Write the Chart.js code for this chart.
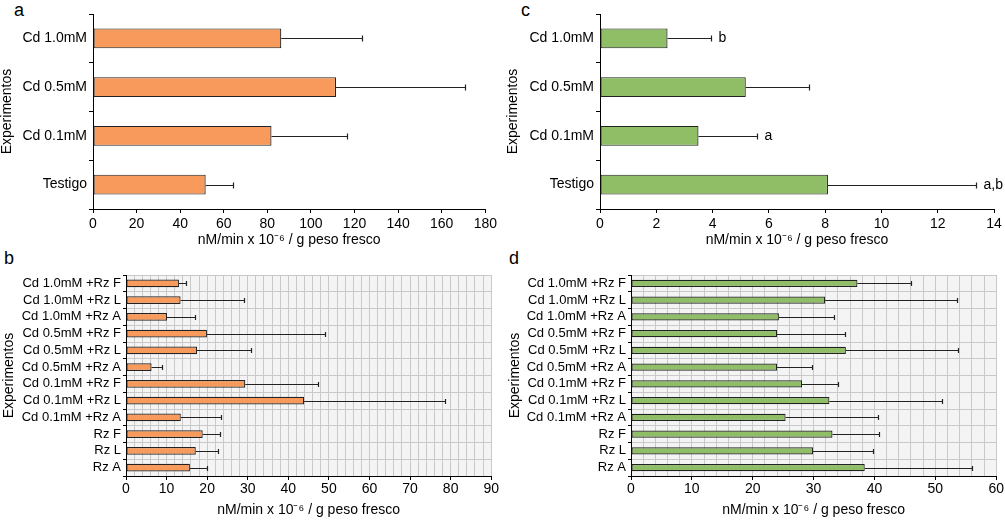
<!DOCTYPE html>
<html>
<head>
<meta charset="utf-8">
<script src="https://cdn.jsdelivr.net/npm/chart.js@4.4.0/dist/chart.umd.min.js"></script>
<style>
body { margin:0; background:#fff; width:1005px; height:524px; position:relative; overflow:hidden; font-family:"Liberation Sans", Arial, sans-serif; }
canvas { position:absolute; }
.letter { position:absolute; font-size:18px; line-height:18px; font-weight:normal; color:#000; }
</style>
</head>
<body>
<div class="letter" style="left:14px;top:1px">a</div>
<div class="letter" style="left:521px;top:1px">c</div>
<div class="letter" style="left:4px;top:249px">b</div>
<div class="letter" style="left:509px;top:249px">d</div>
<canvas id="chartA" width="500" height="255" style="left:0;top:0"></canvas>
<canvas id="chartC" width="505" height="255" style="left:500px;top:0"></canvas>
<canvas id="chartB" width="500" height="269" style="left:0;top:255px"></canvas>
<canvas id="chartD" width="505" height="269" style="left:500px;top:255px"></canvas>
<script>
// top panels: Cd only
const catsTop = ['Cd 1.0mM', 'Cd 0.5mM', 'Cd 0.1mM', 'Testigo'];
const valsA = [86.4, 111.5, 81.9, 51.7];
const errA = [37.1, 59.4, 34.8, 12.7];
const valsC = [2.40, 5.18, 3.50, 8.10];
const errC = [1.54, 2.25, 2.08, 5.25];
const sigC = ['b', '', 'a', 'a,b'];

// bottom panels: Cd + Rz
const catsBottom = [
    'Cd 1.0mM +Rz F', 'Cd 1.0mM +Rz L', 'Cd 1.0mM +Rz A',
    'Cd 0.5mM +Rz F', 'Cd 0.5mM +Rz L', 'Cd 0.5mM +Rz A',
    'Cd 0.1mM +Rz F', 'Cd 0.1mM +Rz L', 'Cd 0.1mM +Rz A',
    'Rz F', 'Rz L', 'Rz A'
];
const valsB = [13.05, 13.45, 10.1, 19.95, 17.5, 6.3, 29.4, 43.9, 13.5, 18.9, 17.2, 15.75];
const errB = [1.8, 15.65, 6.8, 29.1, 13.3, 2.5, 17.8, 34.6, 9.8, 4.15, 5.5, 4.1];
const valsD = [37.2, 31.9, 24.3, 24.0, 35.3, 24.0, 28.1, 32.6, 25.4, 33.1, 29.9, 38.4];
const errD = [8.8, 21.7, 9.0, 11.1, 18.5, 5.7, 5.9, 18.5, 15.2, 7.6, 9.9, 17.7];

const xTitle = 'nM/min x 10\u207B\u2076 / g peso fresco';
const FONT = '"Liberation Sans", Arial, sans-serif';
const ORANGE = '#f79a5b';
const GREEN = '#8fbe66';

// error bars (and optional letters) drawn after the bars
const errorBars = {
    id: 'errorBars',
    afterDatasetsDraw(chart, args, opts) {
        const ctx = chart.ctx;
        const xs = chart.scales.x;
        const meta = chart.getDatasetMeta(0);
        const ds = chart.data.datasets[0];
        ctx.save();
        ctx.strokeStyle = '#222';
        ctx.lineWidth = 1.2;
        meta.data.forEach((bar, i) => {
            const x0 = bar.x;
            const x1 = Math.round(xs.getPixelForValue(ds.data[i] + ds.errors[i])) + 0.5;
            const y = Math.round(bar.y) + 0.5;
            ctx.beginPath();
            ctx.moveTo(x0, y);
            ctx.lineTo(x1, y);
            ctx.moveTo(x1, y - opts.cap);
            ctx.lineTo(x1, y + opts.cap);
            ctx.stroke();
            if (ds.sig && ds.sig[i]) {
                ctx.fillStyle = '#000';
                ctx.font = '14px ' + FONT;
                ctx.textBaseline = 'middle';
                ctx.textAlign = 'left';
                ctx.fillText(ds.sig[i], x1 + 7, y);
            }
        });
        ctx.restore();
    }
};

const plotBg = {
    id: 'plotBg',
    beforeDraw(chart, args, opts) {
        if (!opts.color) return;
        const a = chart.chartArea;
        chart.ctx.save();
        chart.ctx.fillStyle = opts.color;
        chart.ctx.fillRect(a.left, a.top, a.right - a.left, a.bottom - a.top);
        chart.ctx.restore();
    }
};

function makePanel(id, cats, vals, errs, p) {
    const grid = p.grid;
    return new Chart(document.getElementById(id), {
        type: 'bar',
        data: {
            labels: cats,
            datasets: [{
                data: vals,
                errors: errs,
                sig: p.sig,
                backgroundColor: p.color,
                borderColor: '#222',
                borderWidth: 1.2,
                borderSkipped: false,
                barPercentage: p.barPct,
                categoryPercentage: 1
            }]
        },
        options: {
            indexAxis: 'y',
            responsive: false,
            animation: false,
            events: [],
            layout: { padding: p.padding },
            plugins: {
                legend: { display: false },
                tooltip: { enabled: false },
                errorBars: { cap: p.cap },
                plotBg: { color: grid ? '#f4f4f4' : null }
            },
            scales: {
                x: {
                    min: 0,
                    max: p.max,
                    afterFit: s => { s.height = p.xHeight; },
                    border: { color: '#000' },
                    grid: {
                        drawOnChartArea: grid,
                        color: '#c9c9c9',
                        tickLength: 4,
                        tickColor: c => (Math.round(c.tick.value) % p.labelStep === 0 ? '#000' : 'rgba(0,0,0,0)')
                    },
                    ticks: {
                        stepSize: p.step,
                        autoSkip: false,
                        maxRotation: 0,
                        padding: p.xTickPad,
                        color: '#000',
                        font: { family: FONT, size: 14 },
                        callback: v => (Math.round(v) % p.labelStep === 0 ? v : '')
                    },
                    title: {
                        display: true,
                        text: xTitle,
                        color: '#000',
                        font: { family: FONT, size: 14, lineHeight: 1 },
                        padding: { top: 0, bottom: p.titlePad }
                    }
                },
                y: {
                    afterFit: s => { s.width = p.yWidth; },
                    border: { color: '#000' },
                    grid: {
                        offset: true,
                        drawOnChartArea: grid,
                        color: '#c9c9c9',
                        tickColor: '#000',
                        tickLength: p.yTick
                    },
                    ticks: {
                        autoSkip: false,
                        padding: 2,
                        color: '#000',
                        font: { family: FONT, size: p.labelSize }
                    },
                    title: {
                        display: true,
                        text: 'Experimentos',
                        color: '#000',
                        font: { family: FONT, size: 14, lineHeight: 1 },
                        padding: 0
                    }
                }
            }
        },
        plugins: [plotBg, errorBars]
    });
}

makePanel('chartA', catsTop, valsA, errA, {
    color: ORANGE, max: 180, step: 20, labelStep: 20, grid: false,
    padding: { left: 0, right: 12, top: 14, bottom: 0 },
    yWidth: 93, xHeight: 46, xTickPad: 3, titlePad: 8,
    yTick: 4, labelSize: 14, barPct: 0.41, cap: 3
});

makePanel('chartC', catsTop, valsC, errC, {
    color: GREEN, max: 14, step: 2, labelStep: 2, grid: false, sig: sigC,
    padding: { left: 6, right: 11, top: 14, bottom: 0 },
    yWidth: 94, xHeight: 46, xTickPad: 3, titlePad: 8,
    yTick: 4, labelSize: 14, barPct: 0.41, cap: 3
});

makePanel('chartB', catsBottom, valsB, errB, {
    color: ORANGE, max: 90, step: 2, labelStep: 10, grid: true,
    padding: { left: 2, right: 7, top: 20, bottom: 0 },
    yWidth: 124, xHeight: 48, xTickPad: 1, titlePad: 7,
    yTick: 3, labelSize: 13, barPct: 0.45, cap: 2.5
});

makePanel('chartD', catsBottom, valsD, errD, {
    color: GREEN, max: 60, step: 2, labelStep: 10, grid: true,
    padding: { left: 8, right: 7, top: 20, bottom: 0 },
    yWidth: 123, xHeight: 48, xTickPad: 1, titlePad: 7,
    yTick: 3, labelSize: 13, barPct: 0.43, cap: 2.5
});
</script>
</body>
</html>
